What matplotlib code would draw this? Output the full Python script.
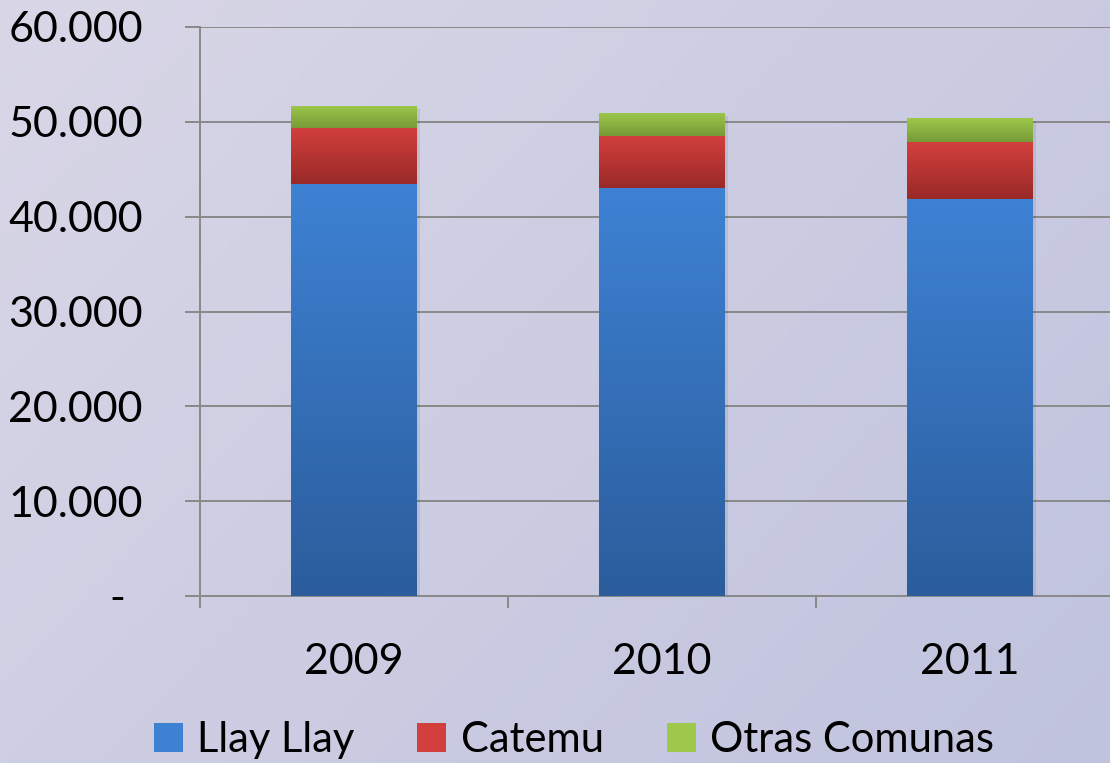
import numpy as np
import matplotlib
matplotlib.use("Agg")
import matplotlib.pyplot as plt
from matplotlib.colors import LinearSegmentedColormap
from matplotlib.ticker import FuncFormatter

years = ["2009", "2010", "2011"]
llay_llay = [43460, 43040, 41880]
catemu = [5910, 5480, 6010]
otras = [2320, 2430, 2530]
series_names = ["Llay Llay", "Catemu", "Otras Comunas"]

plt.rcParams['font.family'] = ['Lato', 'DejaVu Sans']

W, H = 1110, 763
PX = 0.72  # points per pixel at dpi 100
fig = plt.figure(figsize=(W / 100, H / 100), dpi=100)

# background gradient
bg = fig.add_axes([0, 0, 1, 1], zorder=-10)
xx, yy = np.meshgrid(np.linspace(0, 1, 200), np.linspace(0, 1, 200))
t = (xx * 0.6 + yy * 0.4)
c0 = np.array([217, 215, 231]) / 255
c1 = np.array([192, 195, 222]) / 255
img = c0[None, None, :] * (1 - t[..., None]) + c1[None, None, :] * t[..., None]
bg.imshow(img, extent=[0, 1, 0, 1], aspect='auto', origin='upper')
bg.axis('off')

left = 200 / W
right = 1124 / W
bottom = 1 - 596 / H
top = 1 - 27 / H
ax = fig.add_axes([left, bottom, right - left, top - bottom])
ax.patch.set_alpha(0)

x = np.arange(len(years))
width = 0.406
grads = [
    ("#3e82d4", "#2b5d9c"),
    ("#d23f3c", "#992a28"),
    ("#9dc84b", "#779a37"),
]
data = [llay_llay, catemu, otras]
bottoms = np.zeros(len(years))
handles = []
for vals, (ctop, cbot), name in zip(data, grads, series_names):
    bars = ax.bar(x, vals, width, bottom=bottoms, color=ctop, label=name,
                  zorder=3, linewidth=0)
    cmap = LinearSegmentedColormap.from_list("g", [cbot, ctop])
    grad = np.linspace(0, 1, 256).reshape(-1, 1)
    for b in bars:
        x0, y0 = b.get_x(), b.get_y()
        w, h = b.get_width(), b.get_height()
        im = ax.imshow(grad, extent=[x0, x0 + w, y0, y0 + h], origin='lower',
                       cmap=cmap, aspect='auto', zorder=3.1)
        im.set_clip_path(b)
    bottoms += np.array(vals)
    handles.append(bars)

# subtle shadow
for i, tot in enumerate(bottoms):
    ax.bar(x[i] + 0.012, tot, width, bottom=-300, color='#000000', alpha=0.08,
           zorder=2.5, linewidth=0)

ax.set_xlim(-0.5, 2.5)
ax.set_ylim(0, 60000)
ax.set_yticks(np.arange(0, 60001, 10000))
ax.yaxis.set_major_formatter(FuncFormatter(
    lambda v, p: "-" if v == 0 else f"{int(v):,}".replace(",", ".")))
ax.grid(axis='y', color='#8a8a8a', linewidth=2 * PX, zorder=1)
ax.set_axisbelow(True)

ax.set_xticks(x)
ax.set_xticklabels(years)
ax.set_xticks([-0.5, 0.5, 1.5], minor=True)
ax.tick_params(axis='x', which='major', length=0, pad=47 * PX, labelsize=31)
ax.tick_params(axis='x', which='minor', length=12 * PX, width=2 * PX, color='#8a8a8a')
ax.tick_params(axis='y', length=15 * PX, width=2 * PX, color='#8a8a8a',
               labelsize=31, pad=42 * PX)
# the "-" zero label sits a bit further left, as in the reference
from matplotlib.transforms import ScaledTranslation
zero_lab = ax.get_yticklabels()[0]
zero_lab.set_transform(zero_lab.get_transform() +
                       ScaledTranslation(-18 / 100, 0, fig.dpi_scale_trans))

for s in ['top', 'right']:
    ax.spines[s].set_visible(False)
for s in ['left', 'bottom']:
    ax.spines[s].set_color('#8a8a8a')
    ax.spines[s].set_linewidth(2 * PX)
ax.spines['left'].set_zorder(4)

leg = fig.legend(handles=handles, labels=series_names, loc='center',
                 bbox_to_anchor=(574 / W, 1 - 740 / H), ncol=3, frameon=False,
                 fontsize=30, handlelength=0.7, handleheight=0.7,
                 handletextpad=0.35, columnspacing=1.5)
for h, (ctop, cbot) in zip(leg.legend_handles, grads):
    h.set_facecolor(ctop)

fig.savefig("out.png", dpi=100)
